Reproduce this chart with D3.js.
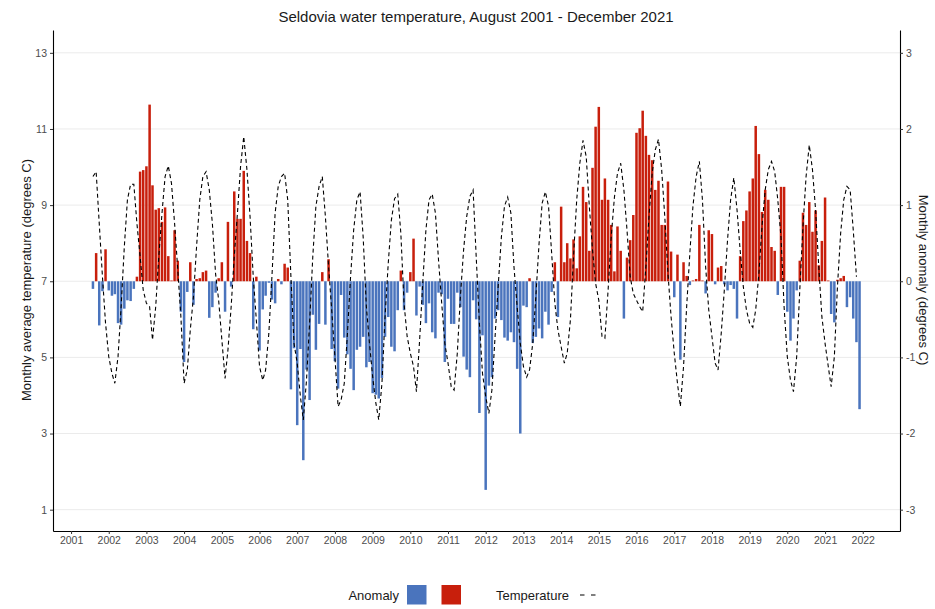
<!DOCTYPE html>
<html>
<head>
<meta charset="utf-8">
<script src="https://cdn.jsdelivr.net/npm/d3@7"></script>
<style>
body { margin: 0; background: #fff; }
text { font-family: "Liberation Sans", Arial, sans-serif; }
</style>
</head>
<body>
<div id="container"></div>
<script>
// first month of the series (August 2001), one value per month after that
const startYear = 2001;
const startMonth = 7; // 0-based: August

// monthly anomaly, degrees C (Aug 2001 - Dec 2021)
const anomaly = [
  -0.10, 0.37, -0.58, -0.13, 0.42,
  -0.12, -0.19, -0.17, -0.55, -0.57, -0.36, -0.25, -0.26, -0.10, 0.06, 1.44, 1.46,
  1.51, 2.32, 1.26, 0.94, 0.96, 0.78, 0.97, 0.33, 0.01, 0.67, 0.27, -0.40,
  -1.06, -0.14, 0.25, -0.31, 0.03, 0.04, 0.12, 0.14, -0.48, -0.34, -0.15, 0.04,
  0.25, -0.40, 0.78, -0.07, 1.18, 0.82, 0.82, 1.45, 0.53, 0.37, -0.63, 0.06,
  -0.91, -0.37, -0.19, -0.02, -0.24, -0.29, 0.03, -0.04, 0.23, 0.18, -1.42, -0.88,
  -1.89, -0.89, -2.35, -1.16, -1.56, -0.44, -0.90, -0.56, 0.12, -0.57, 0.29, -0.89,
  -1.05, -1.41, -0.18, -0.74, -0.96, -1.15, -1.43, -0.90, -0.86, -0.73, -1.13, -1.06,
  -1.47, -1.49, -1.54, -1.27, -0.73, -0.47, -0.86, -0.92, -0.38, 0.14, -0.38, -0.15,
  0.12, 0.56, -0.45, -0.07, -0.31, -0.55, -0.29, -0.67, -0.75, -0.15, -0.17, -1.06,
  -0.23, -0.56, -0.56, -0.15, -0.34, -0.99, -1.16, -1.26, -0.25, -0.50, -1.73, -0.71,
  -2.74, -1.37, -1.26, -0.49, -0.38, -0.51, -0.74, -0.78, -0.67, -0.80, -1.15, -2.00,
  -0.32, -0.34, 0.04, -0.81, -0.73, -0.62, -0.75, -0.40, -0.57, -0.14, 0.25, -0.47,
  0.98, 0.25, 0.50, 0.30, 0.55, 0.17, 0.59, 1.24, 1.04, 0.40, 1.49, 2.03,
  2.29, 1.07, 1.35, 1.07, 0.74, 0.13, 0.72, 0.40, -0.49, 0.31, 0.54, 0.87,
  1.95, 2.01, 2.24, 1.91, 1.66, 1.59, 1.20, 1.32, 0.74, 0.74, 1.31, 0.39,
  -0.21, 0.35, -1.03, 0.25, 0.07, -0.05, 0.01, 0.03, 0.74, 0.01, -0.16, 0.67,
  0.62, -0.04, 0.18, 0.20, -0.04, -0.12, -0.05, -0.10, -0.49, 0.33, 0.79, 0.93,
  1.18, 1.35, 2.04, 1.67, 0.91, 1.20, 1.07, 0.45, 0.40, -0.18, 1.24, 1.24,
  -0.40, -0.78, -0.49, -0.12, 0.27, 0.90, 0.74, 1.04, 0.65, 0.93, 0.21, 0.53,
  1.10, 0.01, -0.43, -0.54, 0.02, 0.04, 0.07, -0.34, -0.21, -0.49, -0.80, -1.68
];

// monthly average temperature, degrees C (Aug 2001 - Nov 2021)
const temperature = [
  9.75, 9.88, 8.52, 7.12, 5.90,
  5.02, 4.58, 4.32, 5.02, 6.33, 7.91, 9.14, 9.55, 9.55, 8.52, 7.65, 6.77,
  6.42, 6.33, 5.46, 6.33, 7.65, 8.79, 9.75, 10.03, 9.57, 8.52, 7.30, 6.07,
  4.32, 4.67, 5.72, 6.60, 7.91, 9.14, 9.75, 9.88, 9.40, 8.52, 7.20, 6.50,
  5.46, 4.45, 5.20, 6.33, 7.65, 8.79, 10.01, 10.80, 9.93, 8.70, 7.12, 5.98,
  4.76, 4.40, 4.67, 5.63, 7.12, 8.79, 9.49, 9.75, 9.84, 9.14, 7.12, 5.37,
  4.85, 3.97, 3.36, 4.40, 5.90, 7.65, 8.97, 9.49, 9.75, 8.70, 7.38, 6.25,
  5.02, 3.71, 3.88, 4.32, 5.60, 7.12, 8.35, 9.14, 9.35, 8.16, 6.33, 5.37,
  4.49, 3.80, 3.36, 4.32, 6.07, 7.47, 8.60, 9.17, 9.29, 8.26, 6.42, 5.55,
  5.11, 4.76, 4.10, 5.46, 6.94, 8.35, 9.14, 9.29, 8.79, 7.56, 6.42, 5.37,
  4.85, 4.23, 4.14, 5.11, 6.60, 7.82, 8.70, 9.23, 9.40, 7.65, 5.90, 4.58,
  3.97, 3.53, 4.14, 5.55, 6.86, 8.16, 8.97, 9.21, 8.79, 7.38, 6.33, 5.37,
  4.76, 4.48, 4.67, 5.37, 6.60, 7.99, 9.05, 9.35, 8.97, 7.74, 6.42, 5.72,
  5.28, 4.85, 5.11, 5.99, 7.65, 9.14, 10.10, 10.70, 10.27, 8.97, 7.82, 6.94,
  6.50, 5.55, 5.50, 6.77, 8.16, 9.20, 9.84, 10.10, 9.40, 8.35, 7.12, 6.68,
  6.50, 6.33, 6.20, 7.38, 8.70, 9.84, 10.45, 10.73, 9.93, 8.70, 7.21, 6.07,
  5.11, 4.32, 3.71, 4.76, 6.33, 7.74, 8.97, 9.75, 10.15, 9.14, 7.38, 6.25,
  5.55, 4.85, 4.67, 5.63, 6.77, 8.08, 9.14, 9.72, 8.88, 7.82, 6.86, 6.25,
  5.90, 5.79, 6.25, 7.21, 8.44, 9.40, 9.93, 10.15, 9.88, 9.14, 8.16, 6.33,
  5.02, 4.40, 4.10, 5.02, 6.77, 8.44, 9.75, 10.58, 9.93, 8.88, 7.38, 6.07,
  5.37, 4.76, 4.23, 5.02, 6.86, 8.26, 9.14, 9.49, 9.40, 8.35, 7.12
];

const yearTicks = d3.range(2001, 2023);
const tempTicks = [1, 3, 5, 7, 9, 11, 13];
const anomalyTicks = [-3, -2, -1, 0, 1, 2, 3];

const blue = "#4a74bd";
const red = "#c81f0c";

const monthDate = i => new Date(Date.UTC(startYear, startMonth + i, 1));
const bars = anomaly.map((a, i) => ({ date: monthDate(i), a: a }));
const temps = temperature.map((t, i) => ({ date: monthDate(i), t: t }));

const svg = d3.select("#container")
  .append("svg")
  .attr("width", 935)
  .attr("height", 609);

const panel = { left: 53, right: 900, top: 30, bottom: 531 };

const x = d3.scaleUtc()
  .domain([new Date(Date.UTC(2000, 6, 10)), new Date(Date.UTC(2022, 11, 28))])
  .range([panel.left, panel.right]);
const yT = d3.scaleLinear().domain([0.44, 13.6]).range([panel.bottom, panel.top]);
const yA = d3.scaleLinear().domain([-3.28, 3.3]).range([panel.bottom, panel.top]);

// grid
svg.append("g")
  .selectAll("line")
  .data(tempTicks)
  .enter()
  .append("line")
  .attr("x1", panel.left).attr("x2", panel.right)
  .attr("y1", d => yT(d)).attr("y2", d => yT(d))
  .attr("stroke", "#ebebeb")
  .attr("stroke-width", 1);

// anomaly bars
const bw = 2.5;
svg.append("g")
  .selectAll("rect")
  .data(bars)
  .enter()
  .append("rect")
  .attr("x", d => x(d.date) - bw / 2)
  .attr("width", bw)
  .attr("y", d => Math.min(yA(0), yA(d.a)))
  .attr("height", d => Math.abs(yA(d.a) - yA(0)))
  .attr("fill", d => d.a < 0 ? blue : red);

// temperature line
const line = d3.line()
  .x(d => x(d.date))
  .y(d => yT(d.t));

svg.append("path")
  .datum(temps)
  .attr("d", line)
  .attr("fill", "none")
  .attr("stroke", "#000")
  .attr("stroke-width", 1.1)
  .attr("stroke-dasharray", "4,3");

// axes
function styleAxis(g) {
  g.select(".domain").attr("stroke", "#000").attr("stroke-width", 1.1);
  g.selectAll(".tick line").attr("stroke", "#333");
  g.selectAll(".tick text")
    .attr("fill", "#4d4d4d")
    .style("font-size", "10.5px")
    .style("font-family", "'Liberation Sans', Arial, sans-serif");
}

svg.append("g")
  .attr("transform", `translate(${panel.left},0)`)
  .call(d3.axisLeft(yT).tickValues(tempTicks).tickFormat(d => String(d))
    .tickSize(3).tickSizeOuter(0).tickPadding(3))
  .call(styleAxis);

svg.append("g")
  .attr("transform", `translate(${panel.right},0)`)
  .call(d3.axisRight(yA).tickValues(anomalyTicks).tickFormat(d => String(d))
    .tickSize(3).tickSizeOuter(0).tickPadding(3))
  .call(styleAxis);

svg.append("g")
  .attr("transform", `translate(0,${panel.bottom})`)
  .call(d3.axisBottom(x)
    .tickValues(yearTicks.map(y => new Date(Date.UTC(y, 0, 1))))
    .tickFormat(d3.utcFormat("%Y"))
    .tickSize(3).tickSizeOuter(0).tickPadding(3))
  .call(styleAxis);

// titles
svg.append("text")
  .attr("x", 476)
  .attr("y", 22)
  .attr("text-anchor", "middle")
  .attr("fill", "#1a1a1a")
  .style("font-size", "15px")
  .text("Seldovia water temperature, August 2001 - December 2021");

svg.append("text")
  .attr("transform", "translate(26,280) rotate(-90)")
  .attr("text-anchor", "middle")
  .attr("dominant-baseline", "central")
  .attr("fill", "#1a1a1a")
  .style("font-size", "13px")
  .text("Monthly average temperature (degrees C)");

svg.append("text")
  .attr("transform", "translate(923,280) rotate(90)")
  .attr("text-anchor", "middle")
  .attr("dominant-baseline", "central")
  .attr("fill", "#1a1a1a")
  .style("font-size", "13px")
  .text("Monthly anomaly (degrees C)");

// legend
const legend = svg.append("g");
legend.append("text")
  .attr("x", 399).attr("y", 600)
  .attr("text-anchor", "end")
  .attr("fill", "#1a1a1a")
  .style("font-size", "13px")
  .text("Anomaly");
legend.selectAll("rect")
  .data([blue, red])
  .enter()
  .append("rect")
  .attr("x", (d, i) => 407 + i * 34.5)
  .attr("y", 585)
  .attr("width", 19.5)
  .attr("height", 19.5)
  .attr("fill", d => d);
legend.append("text")
  .attr("x", 496).attr("y", 600)
  .attr("fill", "#1a1a1a")
  .style("font-size", "13px")
  .text("Temperature");
legend.append("line")
  .attr("x1", 580).attr("x2", 597)
  .attr("y1", 595).attr("y2", 595)
  .attr("stroke", "#000")
  .attr("stroke-width", 1.1)
  .attr("stroke-dasharray", "4.5,6.5");
</script>
</body>
</html>
